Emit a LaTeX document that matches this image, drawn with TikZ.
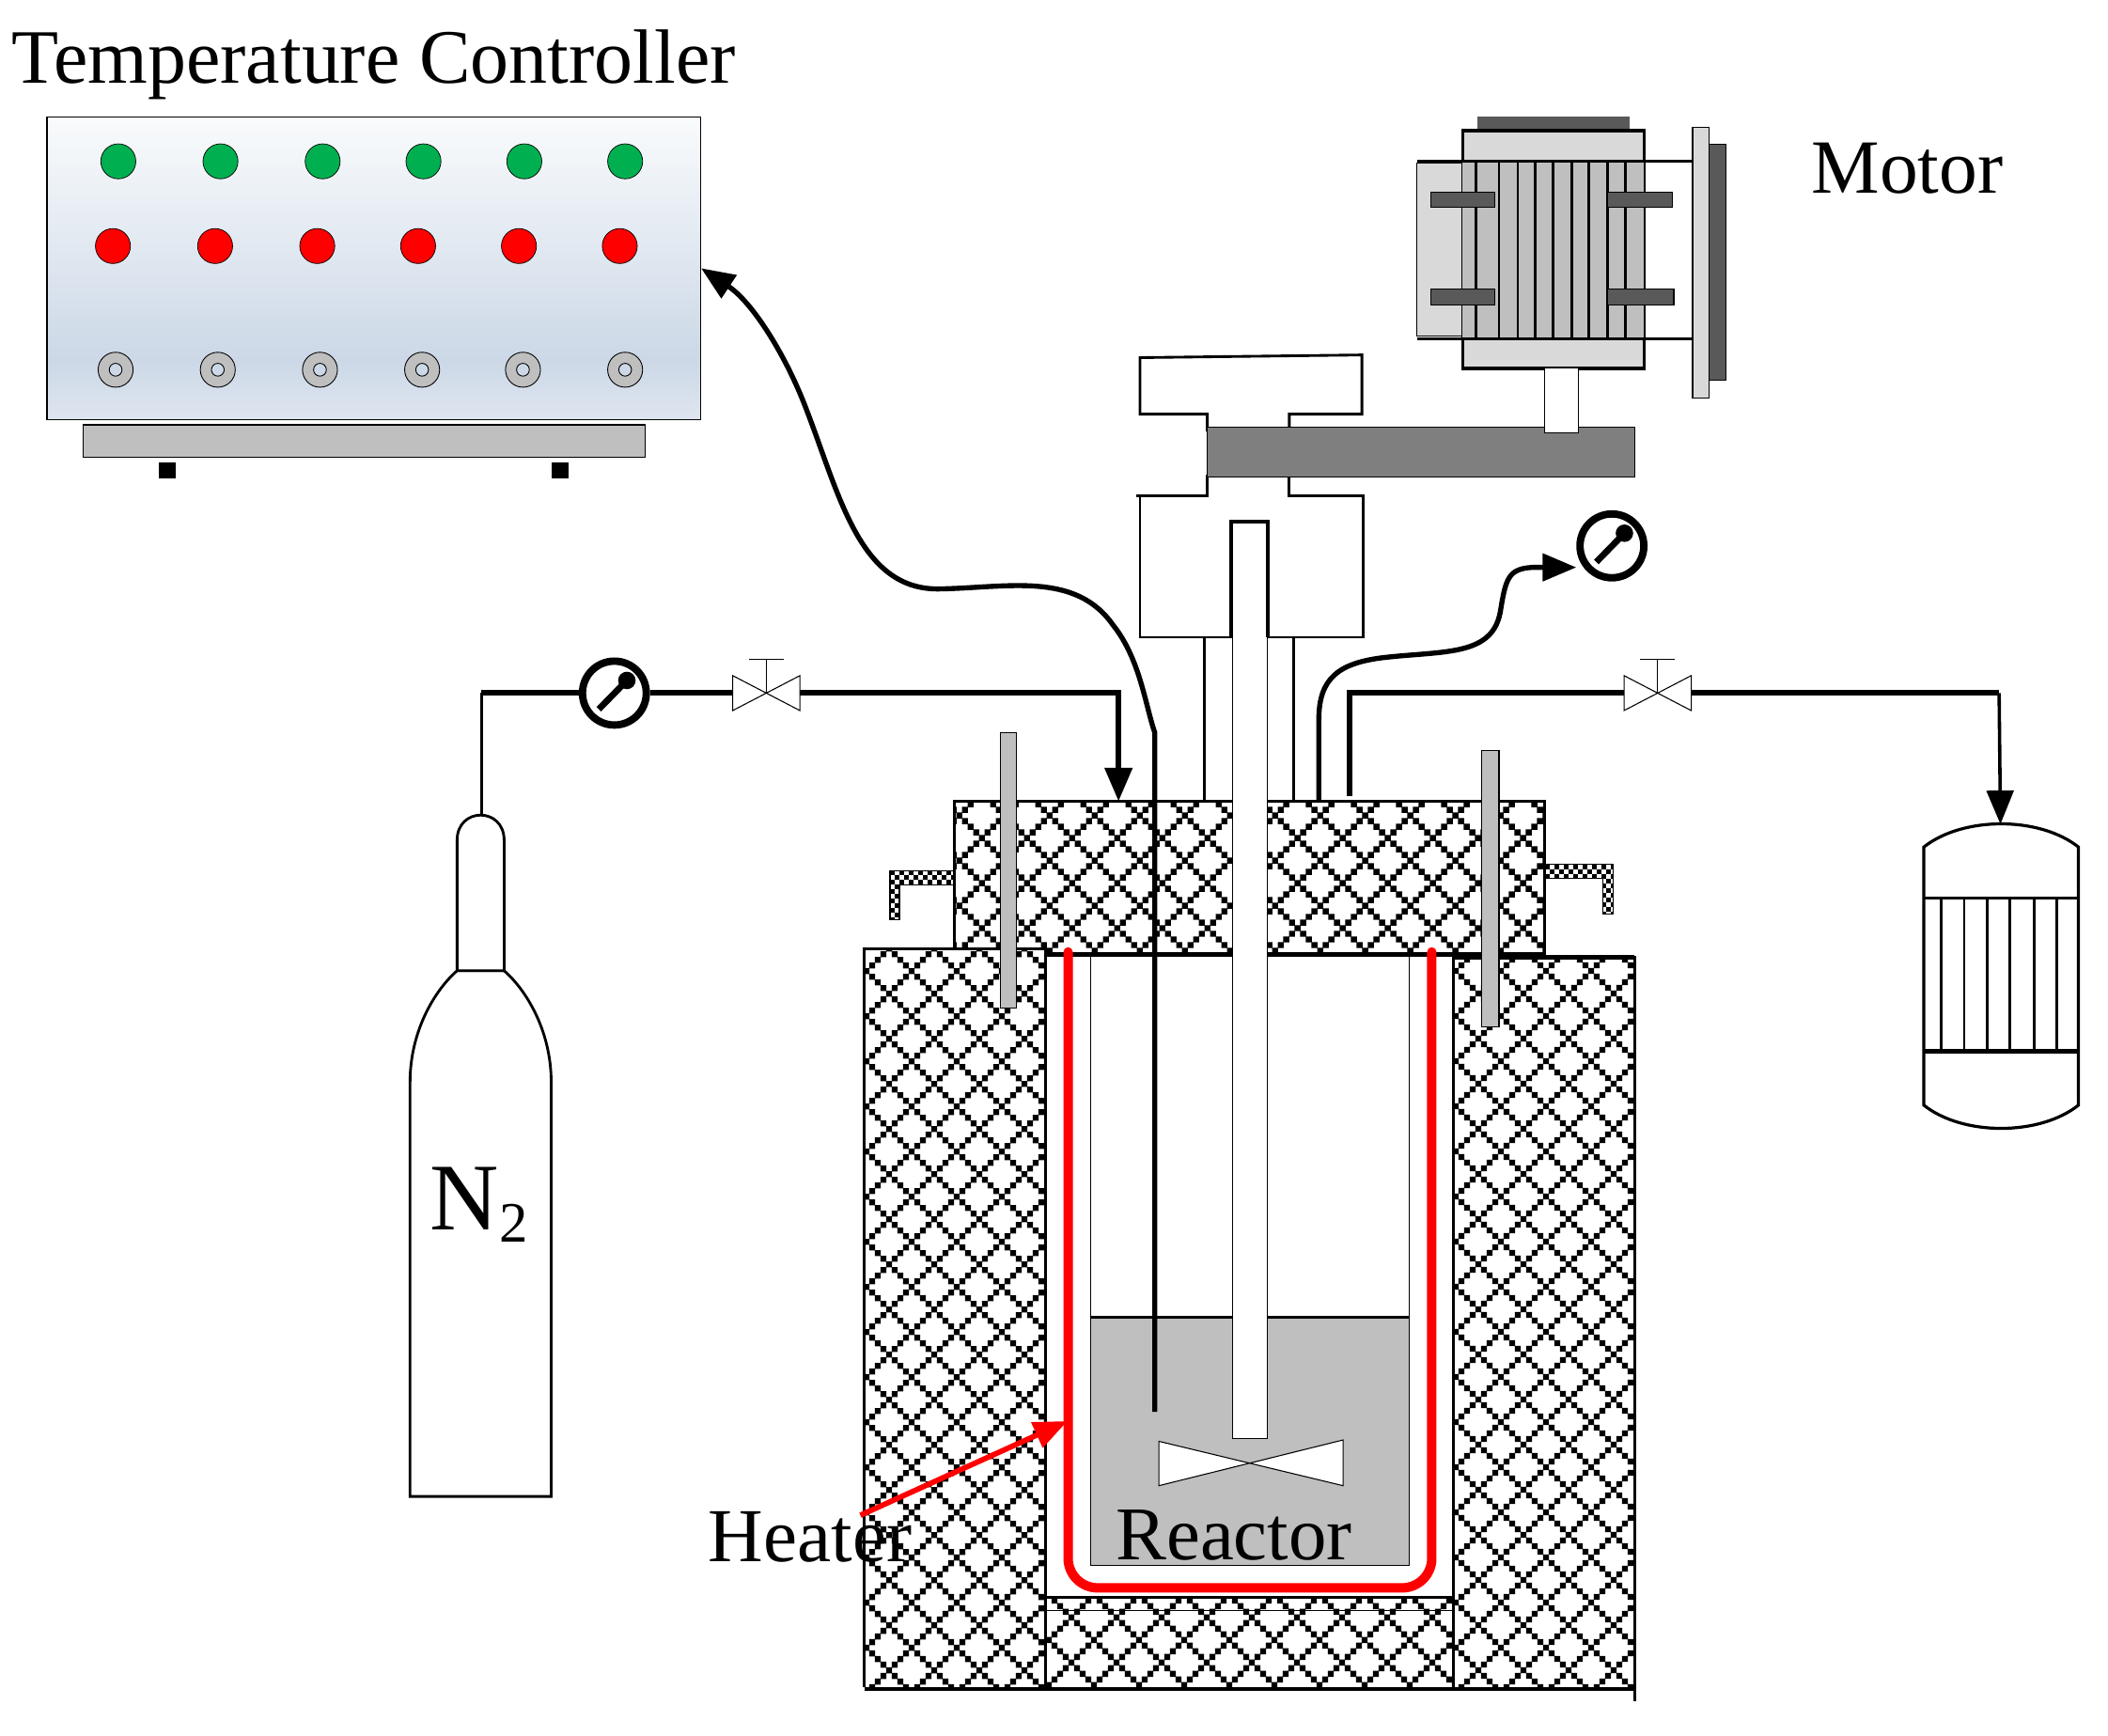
\documentclass[tikz,border=0pt]{standalone}
\usepackage{fontspec}
\setmainfont{Liberation Serif}
\usetikzlibrary{arrows.meta,calc}
\definecolor{panelt}{HTML}{F9FBFC}
\definecolor{panelm}{HTML}{CCD8E7}
\definecolor{panelb}{HTML}{DEE5EF}
\definecolor{lgray}{HTML}{BFBFBF}
\definecolor{pale}{HTML}{D9D9D9}
\definecolor{dgray}{HTML}{595959}
\definecolor{mgray}{HTML}{7F7F7F}
\definecolor{okgreen}{HTML}{00B050}
\pgfdeclareverticalshading{panel}{100bp}{color(0bp)=(panelb); color(25bp)=(panelb); color(35bp)=(panelm); color(75bp)=(panelt); color(100bp)=(panelt)}
\tikzset{
 u/.style={x=0.4pt,y=-0.4pt},
 thin line/.style={draw=black,line width=0.3pt},
 med line/.style={draw=black,line width=0.8pt},
 pipe/.style={draw=black,line width=1.7pt},
 sig/.style={draw=black,line width=1.5pt},
 tip/.style={-{Triangle[length=10pt,width=8pt]}},
 gauge/.style={circle,draw=black,fill=white,line width=2.2pt,minimum size=19pt,inner sep=0pt},
 needle/.style={draw=black,line width=1.9pt},
 rod/.style={fill=lgray,draw=black,line width=0.3pt},
 bracket/.style={fill=dgray,draw=black,line width=0.3pt},
 lab/.style={anchor=base west,inner sep=0pt,text=black},
 green lamp/.style={circle,fill=okgreen,draw=black,line width=0.2pt,minimum size=10.4pt,inner sep=0pt},
 red lamp/.style={circle,fill=red,draw=black,line width=0.2pt,minimum size=10.4pt,inner sep=0pt},
 knob/.style={circle,fill=lgray,draw=black,line width=0.25pt,minimum size=10.4pt,inner sep=0pt},
 hole/.style={circle,fill=panelm,draw=black,line width=0.25pt,minimum size=3.8pt,inner sep=0pt},
}
% stepped diamond lattice: tile period 33.55 units, eight cells of 4.194
\newcommand{\hatchtile}[2]{%
 \fill[black,shift={(#1,#2)}]
  (0,0) rectangle ++(4.4,4.4) (4.194,4.194) rectangle ++(4.4,4.4) (8.388,8.388) rectangle ++(4.4,4.4)
  (12.58,12.58) rectangle ++(4.4,4.4) (16.78,16.78) rectangle ++(4.4,4.4) (20.97,20.97) rectangle ++(4.4,4.4)
  (25.16,25.16) rectangle ++(4.4,4.4) (29.36,29.36) rectangle ++(4.4,4.4)
  (4.194,29.36) rectangle ++(4.4,4.4) (8.388,25.16) rectangle ++(4.4,4.4) (12.58,20.97) rectangle ++(4.4,4.4)
  (20.97,12.58) rectangle ++(4.4,4.4) (25.16,8.388) rectangle ++(4.4,4.4) (29.36,4.194) rectangle ++(4.4,4.4);}
\newcommand{\hatchbox}[6]{%
 \fill[white] (#1,#2) rectangle (#3,#4);
 \begin{scope}
 \clip (#1,#2) rectangle (#3,#4);
 \pgfmathsetmacro{\mA}{int(floor((#1-#5)/33.55)-1)}
 \pgfmathsetmacro{\mB}{int(ceil((#3-#5)/33.55))}
 \pgfmathsetmacro{\nA}{int(floor((#2-#6)/33.55)-1)}
 \pgfmathsetmacro{\nB}{int(ceil((#4-#6)/33.55))}
 \foreach \m in {\mA,...,\mB}{\foreach \n in {\nA,...,\nB}{
  \pgfmathsetmacro{\tx}{#5-2.2+\m*33.55}
  \pgfmathsetmacro{\ty}{#6-2.2+\n*33.55}
  \hatchtile{\tx}{\ty}
 }}
 \end{scope}}
\newcommand{\checkbox}[2]{%
 \foreach \i in {0,...,16}{\foreach \j in {0,...,12}{
  \pgfmathparse{int(mod(\i+\j,2))}
  \ifnum\pgfmathresult=0
   \fill[black] ({#1+\i*3.5},{#2+\j*3.5}) rectangle ++(3.5,3.5);
  \fi}}}
\begin{document}
\begin{tikzpicture}[u]
\useasboundingbox (0,0) rectangle (1568,1290.5);
% ---- labels
\node[lab,font=\fontsize{22.9}{24}\selectfont] (ttc) at (8.5,62) {Temperature Controller};
\node[lab,font=\fontsize{22.8}{24}\selectfont] (tmotor) at (1347,143.5) {Motor};
% ---- controller
\node[draw=black,line width=0.4pt,shading=panel,minimum width=194.4pt,minimum height=90pt,inner sep=0pt] (ctrl) at (278,199.5) {};
\foreach \n/\x in {1/88,2/164,3/240,4/315,5/390,6/465}{\node[green lamp] (gl\n) at (\x,120) {};}
\foreach \n/\x in {1/84,2/160,3/236,4/311,5/386,6/461}{\node[red lamp] (rl\n) at (\x,183) {};}
\foreach \n/\x in {1/86,2/162,3/238,4/314,5/389,6/465}{\node[knob] (kn\n) at (\x,275) {}; \node[hole] (kh\n) at (\x,275) {};}
\draw[fill=lgray,draw=black,line width=0.3pt] (62,316) rectangle (480,340);
\fill[black] (118,344) rectangle (131,356);
\fill[black] (410,344) rectangle (423,356);
% ---- motor
\draw[fill=pale,draw=black,line width=0.3pt] (1054,121) rectangle (1088,250);
\draw[med line] (1054,120) -- (1088,120) (1054,252) -- (1088,252) (1223,120) -- (1258,120) (1223,252) -- (1258,252);
\fill[dgray] (1099,87) rectangle (1212,97);
\draw[fill=pale,draw=black,line width=1pt] (1088,97) rectangle (1223,274);
\draw[fill=lgray,draw=none] (1088,120) rectangle (1223,252);
\draw[med line] (1088,120) -- (1223,120) (1088,252) -- (1223,252);
\foreach \x in {1098,1115,1129,1142,1155,1169,1182,1196,1209}{\draw[med line] (\x,120) -- (\x,252);}
\draw[bracket] (1064,143) rectangle (1112,154);
\draw[bracket] (1196,143) rectangle (1244,154);
\draw[bracket] (1064,215) rectangle (1112,227);
\draw[bracket] (1196,215) rectangle (1245,227);
\draw[fill=dgray,draw=black,line width=0.3pt] (1271,107) rectangle (1284,283);
\draw[fill=pale,draw=black,line width=0.3pt] (1259,95) rectangle (1271,296);
% ---- coupling housing
\draw[med line,fill=white] (848,266) -- (1013,264) -- (1013,308) -- (959,308) -- (959,320) -- (898,320) -- (898,308) -- (848,308) -- cycle;
\draw[med line,fill=white] (898,353) -- (898,369) -- (848,369) -- (848,474) -- (1014,474) -- (1014,369) -- (959,369) -- (959,353);
\draw[med line] (848,369) -- (845,369);
\draw[fill=mgray,draw=black,line width=0.3pt] (898,318) rectangle (1216,355);
\draw[fill=white,draw=black,line width=0.3pt] (1149,274) rectangle (1174,322);
\draw[med line] (896,474) -- (896,596) (962,474) -- (962,596);
% ---- lid
\hatchbox{710}{596}{1149}{710}{797.4}{623.3}
\draw[med line] (710,710) -- (710,596) -- (1149,596) -- (1149,710);
\draw[line width=1.5pt] (778,710) -- (1149,710);
% ---- furnace
\hatchbox{643}{706}{778}{1255}{678.1}{722.3}
\hatchbox{1081}{712}{1216}{1255}{1150}{722.2}
\hatchbox{778}{1188}{1081}{1255}{796.9}{1203}
\draw[med line] (643,1255) -- (643,706) -- (778,706) -- (778,1255);
\draw[med line] (778,1188) -- (1081,1188);
\draw[thin line] (778,1197.7) -- (1081,1197.7);
\draw[med line] (1081,1255) -- (1081,712) -- (1216,712) -- (1216,1265);
\draw[line width=1.3pt] (1081,712) -- (1216,712);
\draw[line width=1.2pt] (643,1256) -- (1216,1256);
% ---- hooks
\begin{scope}
 \clip (662,647.5) -- (710,647.5) -- (710,658) -- (669,658) -- (669,684) -- (662,684) -- cycle;
 \checkbox{662}{647.5}
\end{scope}
\draw[thin line] (662,647.5) -- (710,647.5) -- (710,658) -- (669,658) -- (669,684) -- (662,684) -- cycle;
\begin{scope}
 \clip (1149,643) -- (1200,643) -- (1200,680) -- (1192,680) -- (1192,653) -- (1149,653) -- cycle;
 \checkbox{1149}{643}
\end{scope}
\draw[thin line] (1149,643) -- (1200,643) -- (1200,680) -- (1192,680) -- (1192,653) -- (1149,653) -- cycle;
% ---- reactor
\fill[white] (779,712) rectangle (1080,1187);
\draw[thin line] (811,710) -- (811,1164) -- (1048,1164) -- (1048,710);
\draw[fill=lgray,draw=none] (811,980) rectangle (1048,1164);
\draw[med line] (811,980) -- (1048,980);
\draw[thin line] (811,980) -- (811,1164) -- (1048,1164) -- (1048,980);
\draw[red,line width=2.8pt,line cap=round,rounded corners=8.8pt] (794.5,708) -- (794.5,1181) -- (1065,1181) -- (1065,708);
% ---- shaft
\fill[white] (917,388) rectangle (943,1070);
\draw[thin line] (917,474) -- (917,1070) -- (943,1070) -- (943,474);
\draw[med line,line width=1.1pt] (916,474) -- (916,388) -- (943,388) -- (943,474);
\draw[thin line,fill=white] (862,1072) -- (999,1105) -- (999,1071) -- (862,1105) -- cycle;
% ---- rods
\draw[rod] (744,545) rectangle (756,750);
\draw[rod] (1102,558) rectangle (1115,764);
% ---- cylinder
\coordinate (cyltop) at (358,607);
\draw[med line,fill=white] (305,1113) -- (305,805) .. controls (305,765) and (325,735) .. (340,722) -- (375,722) .. controls (390,735) and (410,765) .. (410,805) -- (410,1113) -- cycle;
\draw[med line,fill=white] (340,722) -- (340,625) .. controls (340,600) and (375,600) .. (375,625) -- (375,722) -- cycle;
\node[lab,font=\fontsize{28.4}{30}\selectfont] (tn2) at (319.5,915) {N\raisebox{-3.6pt}{\fontsize{17}{18}\selectfont 2}};
% ---- receiver vessel
\draw[line width=0.9pt,fill=white] (1431,630) .. controls (1460,607) and (1517,607) .. (1546,630) -- (1546,822) .. controls (1517,845) and (1460,845) .. (1431,822) -- cycle;
\draw[line width=0.8pt] (1431,668) -- (1546,668);
\draw[line width=1.2pt] (1431,782) -- (1546,782);
\foreach \x in {1444,1461,1478,1495,1513,1530}{\draw[line width=0.7pt] (\x,668) -- (\x,782);}
\coordinate (vesseltop) at (1488,613);
% ---- gauges and valves
\node[gauge] (g1) at (457,515.5) {};
\node[gauge] (g2) at (1199,406) {};
\foreach \g in {g1,g2}{
 \draw[needle] ($(\g)+(-11.6,12)$) -- ($(\g)+(9.3,-9.4)$);
 \fill[black] ($(\g)+(9.3,-9.4)$) circle (2.6pt);
}
\coordinate (v1w) at (545,515.5); \coordinate (v1e) at (595,515.5); \coordinate (v1c) at (570,515.5);
\coordinate (v2w) at (1208,515.5); \coordinate (v2e) at (1258,515.5); \coordinate (v2c) at (1233,515.5);
\foreach \v in {v1,v2}{
 \draw[thin line,fill=white] ($(\v w)+(0,-13)$) -- ($(\v e)+(0,13)$) -- ($(\v e)+(0,-13)$) -- ($(\v w)+(0,13)$) -- cycle;
 \draw[thin line] (\v c) -- ++(0,-25) ++(-13,0) -- ++(26,0);
}
% ---- connectors
\coordinate (nelbow) at (358,515.5);
\coordinate (ninlet) at (832,596);
\coordinate (nturn) at (832,515.5);
\draw[med line,line width=0.9pt] (cyltop) -- (nelbow);
\draw[pipe] (nelbow) -- (g1.west);
\draw[pipe] (g1.east) -- (v1w);
\draw[pipe,tip] (v1e) -- (nturn) -- (ninlet);
\coordinate (outlet) at (1004,592);
\coordinate (oturn) at (1004,515.5);
\draw[pipe] (outlet) -- (oturn) -- (v2w);
\coordinate (oelbow) at (1487,515.5);
\draw[pipe] (v2e) -- (oelbow);
\draw[line width=1pt,tip] (oelbow) -- (vesseltop);
\coordinate (pbase) at (981,596);
\draw[sig,tip] (pbase) -- (981,535) .. controls (981,505) and (995,493) .. (1030,489) .. controls (1075,484) and (1110,488) .. (1116,455) .. controls (1120,430) and (1122,423) .. (1140,422) -- (g2.west |- 0,422);
\coordinate (tprobe) at (859,1050);
\draw[sig,tip] (tprobe) -- (859,545) .. controls (852,525) and (848,490) .. (828,465) .. controls (800,425) and (750,437) .. (700,438) .. controls (640,440) and (625,370) .. (600,305) .. controls (585,265) and (560,225) .. (ctrl.east);
% ---- heater arrow and labels
\coordinate (hstart) at (640,1127);
\coordinate (hend) at (794,1057);
\draw[red,line width=1.6pt,-{Triangle[length=10pt,width=8pt]}] (hstart) -- (hend);
\node[lab,font=\fontsize{22.7}{24}\selectfont] (theater) at (526.5,1161.5) {Heater};
\node[lab,font=\fontsize{22.6}{24}\selectfont] (treactor) at (829.5,1160) {Reactor};
\end{tikzpicture}
\end{document}
